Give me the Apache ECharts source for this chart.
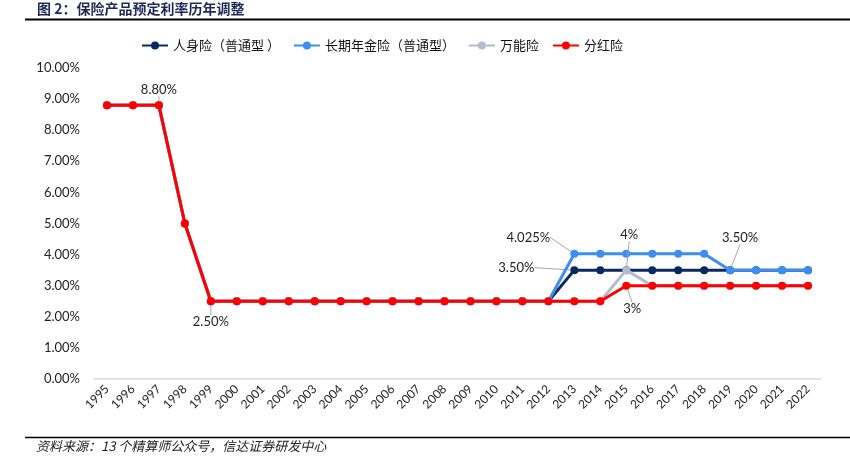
<!DOCTYPE html>
<html>
<head>
<meta charset="utf-8">
<script src="https://cdn.jsdelivr.net/npm/echarts@6/dist/echarts.min.js"></script>
<style>html,body{margin:0;padding:0;background:#fff;}#c{width:850px;height:461px;}</style>
</head>
<body>
<div id="c"></div>
<script>
const years = ['1995','1996','1997','1998','1999','2000','2001','2002','2003','2004','2005','2006','2007','2008','2009','2010','2011','2012','2013','2014','2015','2016','2017','2018','2019','2020','2021','2022'];
const seriesNames = ['人身险（普通型 ）','长期年金险（普通型）','万能险','分红险'];
const personal = [8.8,8.8,8.8,5.0,2.5,2.5,2.5,2.5,2.5,2.5,2.5,2.5,2.5,2.5,2.5,2.5,2.5,2.5,3.5,3.5,3.5,3.5,3.5,3.5,3.5,3.5,3.5,3.5];
const annuity  = [8.8,8.8,8.8,5.0,2.5,2.5,2.5,2.5,2.5,2.5,2.5,2.5,2.5,2.5,2.5,2.5,2.5,2.5,4.025,4.025,4.025,4.025,4.025,4.025,3.5,3.5,3.5,3.5];
const universal= [8.8,8.8,8.8,5.0,2.5,2.5,2.5,2.5,2.5,2.5,2.5,2.5,2.5,2.5,2.5,2.5,2.5,2.5,2.5,2.5,3.5,3.0,3.0,3.0,3.0,3.0,3.0,3.0];
const dividend = [8.8,8.8,8.8,5.0,2.5,2.5,2.5,2.5,2.5,2.5,2.5,2.5,2.5,2.5,2.5,2.5,2.5,2.5,2.5,2.5,3.0,3.0,3.0,3.0,3.0,3.0,3.0,3.0];
const yTicks = {min:0, max:10, interval:1};
// annotation texts: [seriesIndex, dataIndex, text]
const annotations = [
  [3, 2, '8.80%'], [3, 4, '2.50%'],
  [1, 18, '4.025%'], [0, 18, '3.50%'],
  [2, 20, '4%'], [3, 20, '3%'], [1, 24, '3.50%']
];
const colors = ['#0b2860','#3e8ef2','#b3bdcd','#ff0000'];
const values = [personal, annuity, universal, dividend];

// label displacement (style only)
const moves = {
  '3-2':[0,0], '3-4':[0,36],
  '1-18':[-46,-1], '0-18':[-58,13],
  '2-20':[3,-20], '3-20':[6,39], '1-24':[10,-17]
};
const FONT = 'Lato, "Open Sans", sans-serif';
const series = values.map((v, si) => ({
  name: seriesNames[si], type: 'line', data: v.map((val, di) => {
    const a = annotations.find(x => x[0] === si && x[1] === di);
    if (!a) return val;
    return {value: val, label: {show: true, formatter: a[2]}};
  }),
  symbol: 'circle', symbolSize: 8, z: 2 + si,
  lineStyle: {width: 3, color: colors[si]}, itemStyle: {color: colors[si]},
  label: {show: false, position: 'top', color: '#222', fontSize: 13, fontFamily: FONT},
  labelLine: {show: true, lineStyle: {color: '#a6a6a6', width: 1}},
  labelLayout: p => {
    const m = moves[si + '-' + p.dataIndex];
    if (!m) return {};
    return {dx: m[0], dy: m[1]};
  },
  emphasis: {disabled: true}, animation: false
}));

const chart = echarts.init(document.getElementById('c'));
chart.setOption({
  animation: false,
  color: colors,
  grid: {left: 94, right: 29, top: 68, bottom: 82},
  legend: {top: 34, left: 136, itemGap: 13, itemWidth: 26, itemHeight: 10,
    textStyle: {fontFamily: '"Noto Sans CJK SC", sans-serif', fontSize: 13, color: '#111'},
    data: seriesNames},
  xAxis: {type: 'category', data: years, boundaryGap: true,
    axisLine: {lineStyle: {color: '#d9d9d9', width: 1.5}}, axisTick: {show: false},
    axisLabel: {rotate: 45, interval: 0, color: '#222', fontSize: 12, fontFamily: FONT, margin: 8}},
  yAxis: {type: 'value', min: yTicks.min, max: yTicks.max, interval: yTicks.interval,
    splitLine: {show: false}, axisLine: {show: false}, axisTick: {show: false},
    axisLabel: {formatter: v => v.toFixed(2) + '%', color: '#222', fontSize: 13, fontFamily: FONT, margin: 14}},
  graphic: [
    {type: 'text', left: 37, top: 2, style: {text: '图 2：保险产品预定利率历年调整', fill: '#1b2a5a', font: 'bold 14px "Noto Sans CJK SC", sans-serif'}},
    {type: 'line', shape: {x1: 25, y1: 19.5, x2: 850, y2: 19.5}, style: {stroke: '#000', lineWidth: 2}},
    {type: 'line', shape: {x1: 25, y1: 437.5, x2: 850, y2: 437.5}, style: {stroke: '#000', lineWidth: 1.5}},
    {type: 'text', left: 36, top: 440, style: {text: '资料来源：13 个精算师公众号，信达证券研发中心', fill: '#222', font: 'italic 13px "Noto Sans CJK SC", sans-serif'}}
  ],
  series: series
});
</script>
</body>
</html>
